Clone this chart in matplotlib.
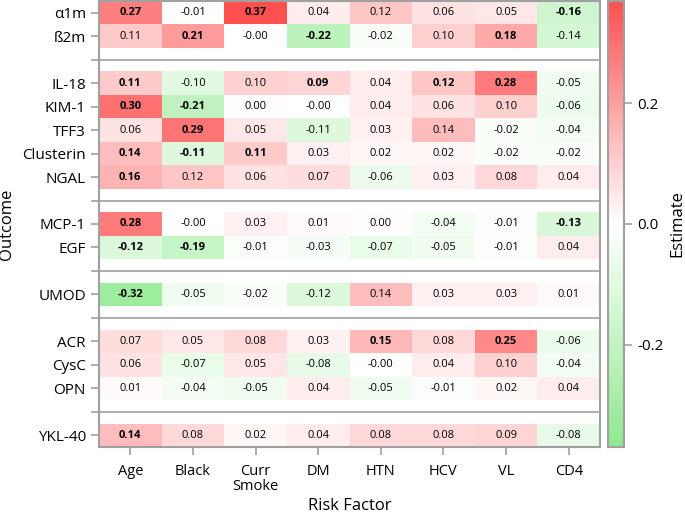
# Heatmap of risk factor estimates by outcome, grouped rows

import numpy as np
import matplotlib
matplotlib.use("Agg")
import matplotlib.pyplot as plt
from matplotlib.colors import LinearSegmentedColormap

# Data
risk_factors = ["Age", "Black", "Curr\nSmoke", "DM", "HTN", "HCV", "VL", "CD4"]

# rows grouped by panel; None marks a gap between groups
outcomes = ["α1m", "ß2m", None,
            "IL-18", "KIM-1", "TFF3", "Clusterin", "NGAL", None,
            "MCP-1", "EGF", None,
            "UMOD", None,
            "ACR", "CysC", "OPN", None,
            "YKL-40"]

# -0.004 / 0.004 stand for the printed "-0.00" / "0.00"
estimates = {
    "α1m":       [0.27, -0.01, 0.37, 0.04, 0.12, 0.06, 0.05, -0.16],
    "ß2m":       [0.11, 0.21, -0.004, -0.22, -0.02, 0.10, 0.18, -0.14],
    "IL-18":     [0.11, -0.10, 0.10, 0.09, 0.04, 0.12, 0.28, -0.05],
    "KIM-1":     [0.30, -0.21, 0.004, -0.004, 0.04, 0.06, 0.10, -0.06],
    "TFF3":      [0.06, 0.29, 0.05, -0.11, 0.03, 0.14, -0.02, -0.04],
    "Clusterin": [0.14, -0.11, 0.11, 0.03, 0.02, 0.02, -0.02, -0.02],
    "NGAL":      [0.16, 0.12, 0.06, 0.07, -0.06, 0.03, 0.08, 0.04],
    "MCP-1":     [0.28, -0.004, 0.03, 0.01, 0.004, -0.04, -0.01, -0.13],
    "EGF":       [-0.12, -0.19, -0.01, -0.03, -0.07, -0.05, -0.01, 0.04],
    "UMOD":      [-0.32, -0.05, -0.02, -0.12, 0.14, 0.03, 0.03, 0.01],
    "ACR":       [0.07, 0.05, 0.08, 0.03, 0.15, 0.08, 0.25, -0.06],
    "CysC":      [0.06, -0.07, 0.05, -0.08, -0.004, 0.04, 0.10, -0.04],
    "OPN":       [0.01, -0.04, -0.05, 0.04, -0.05, -0.01, 0.02, 0.04],
    "YKL-40":    [0.14, 0.08, 0.02, 0.04, 0.08, 0.08, 0.09, -0.08],
}

# 1 = significant (bold label)
significant = {
    "α1m":       [1, 0, 1, 0, 0, 0, 0, 1],
    "ß2m":       [0, 1, 0, 1, 0, 0, 1, 0],
    "IL-18":     [1, 0, 0, 1, 0, 1, 1, 0],
    "KIM-1":     [1, 1, 0, 0, 0, 0, 0, 0],
    "TFF3":      [0, 1, 0, 0, 0, 0, 0, 0],
    "Clusterin": [1, 1, 1, 0, 0, 0, 0, 0],
    "NGAL":      [1, 0, 0, 0, 0, 0, 0, 0],
    "MCP-1":     [1, 0, 0, 0, 0, 0, 0, 1],
    "EGF":       [1, 1, 0, 0, 0, 0, 0, 0],
    "UMOD":      [1, 0, 0, 0, 0, 0, 0, 0],
    "ACR":       [0, 0, 0, 0, 1, 0, 1, 0],
    "CysC":      [0, 0, 0, 0, 0, 0, 0, 0],
    "OPN":       [0, 0, 0, 0, 0, 0, 0, 0],
    "YKL-40":    [1, 0, 0, 0, 0, 0, 0, 0],
}

cbar_ticks = [-0.2, 0.0, 0.2]

# Build grid
n_rows = len(outcomes)
n_cols = len(risk_factors)
grid = np.full((n_rows, n_cols), np.nan)
for i, name in enumerate(outcomes):
    if name is not None:
        grid[i] = estimates[name]
grid = np.ma.masked_invalid(grid)

vmax = np.abs(grid).max()

cmap = LinearSegmentedColormap.from_list("gwr", ["#8fe98f", "#ffffff", "#ff5050"])
cmap.set_bad("white")

frame_col = "#a0a0a0"
plt.rcParams["font.family"] = ["Open Sans", "DejaVu Sans"]

fig = plt.figure(figsize=(6.85, 5.14), dpi=100)
ax = fig.add_axes([0.1445, 0.1304, 0.7315, 0.8677])
cax = fig.add_axes([0.888, 0.1304, 0.023, 0.8677])

mesh = ax.pcolormesh(np.arange(n_cols + 1) - 0.5, np.arange(n_rows + 1) - 0.5, grid,
                     cmap=cmap, vmin=-vmax, vmax=vmax)
ax.set_xlim(-0.5, n_cols - 0.5)
ax.set_ylim(n_rows - 0.5, -0.5)

# cell labels
for i, name in enumerate(outcomes):
    if name is None:
        continue
    for j in range(n_cols):
        v = estimates[name][j]
        ax.text(j, i, f"{v:.2f}", ha="center", va="center", fontsize=8,
                fontweight="bold" if significant[name][j] else "normal")

# separators between groups
for i, name in enumerate(outcomes):
    if name is None:
        ax.plot([-0.61, n_cols - 0.5], [i, i], color=frame_col, lw=1.2,
                clip_on=False)

yt = [i for i, n in enumerate(outcomes) if n is not None]
ax.set_yticks(yt)
ax.set_yticklabels([outcomes[i] for i in yt], fontsize=11)
ax.set_xticks(range(n_cols))
ax.set_xticklabels(risk_factors, fontsize=10.5, linespacing=1.05)
ax.tick_params(color=frame_col, length=6, width=1.2)
ax.tick_params(axis="x", pad=6)
for s in ax.spines.values():
    s.set_color(frame_col)
    s.set_linewidth(1.5)

ax.set_xlabel("Risk Factor", fontsize=12)
ax.xaxis.set_label_coords(0.5, -0.114)
ax.set_ylabel("Outcome", fontsize=12)
ax.yaxis.set_label_coords(-0.168, 0.5)

cb = fig.colorbar(mesh, cax=cax, ticks=cbar_ticks)
cb.ax.set_yticklabels([f"{t:.1f}" for t in cbar_ticks], fontsize=11)
cb.ax.tick_params(color=frame_col, length=6, width=1.2)
cb.outline.set_edgecolor(frame_col)
cb.outline.set_linewidth(1.5)
cb.set_label("Estimate", fontsize=12, labelpad=4)

fig.savefig("out.png", dpi=100)
